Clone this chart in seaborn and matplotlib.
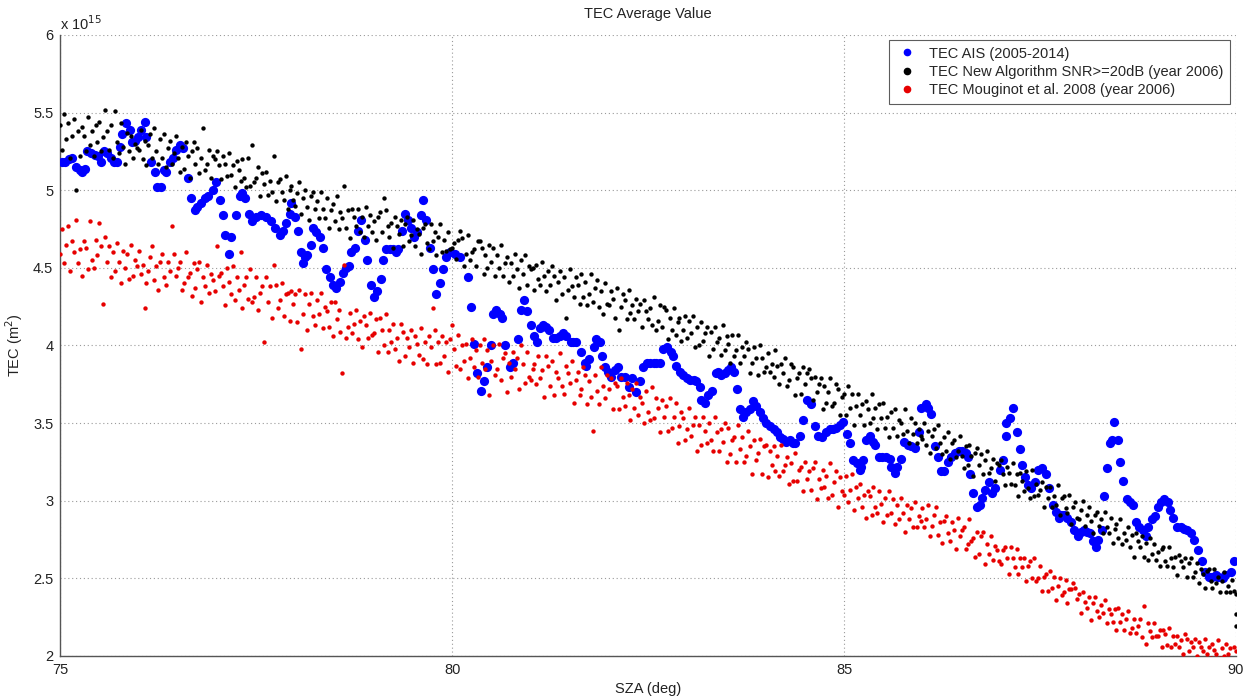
import numpy as np
import pandas as pd
import matplotlib
matplotlib.use("Agg")
import matplotlib.pyplot as plt
from matplotlib.lines import Line2D
import seaborn as sns

# ---------------- data (TEC in units of 1e15 m^-2, SZA in deg) ----------------
# TEC AIS (2005-2014): (SZA, TEC) pairs
blue_seg1 = [(75.02,5.18),(75.06,5.18),(75.11,5.20),(75.15,5.21),(75.20,5.15),(75.25,5.13),(75.28,5.12),(75.32,5.14),(75.34,5.25),(75.39,5.24),
             (75.44,5.23),(75.48,5.22),(75.52,5.18),(75.56,5.25),(75.60,5.24),(75.65,5.21),(75.69,5.18),(75.72,5.18),(75.76,5.28),(75.79,5.36),
             (75.84,5.43),(75.89,5.39),(75.92,5.31),(75.95,5.32),(75.99,5.34),(76.03,5.39),(76.08,5.44),(76.09,5.34),(76.16,5.18),(76.21,5.12),
             (76.23,5.02),(76.29,5.02),(76.32,5.13),(76.35,5.12),(76.40,5.18),(76.44,5.21),(76.48,5.26),(76.53,5.29),(76.57,5.27),(76.63,5.08),
             (76.67,4.95),(76.72,4.87),(76.74,4.89),(76.80,4.92),(76.85,4.95),(76.89,4.96),(76.95,5.00),(76.99,5.05),(77.04,4.94),(77.08,4.84),
             (77.10,4.71),(77.15,4.59),(77.18,4.70),(77.24,4.84),(77.29,4.96),(77.32,4.98),(77.36,4.95),(77.41,4.85),(77.45,4.80),(77.50,4.83)]
blue_seg2 = [(77.56,4.84),(77.63,4.83),(77.69,4.80),(77.74,4.76),(77.80,4.71),(77.84,4.74),(77.88,4.79),(77.93,4.85),(77.94,4.92),(77.99,4.83),
             (78.03,4.74),(78.07,4.60),(78.10,4.53),(78.12,4.57),(78.15,4.58),(78.20,4.65),(78.23,4.76),(78.26,4.73),(78.31,4.70),(78.35,4.63),
             (78.39,4.49),(78.44,4.44),(78.48,4.39),(78.52,4.37),(78.57,4.41),(78.61,4.47),(78.65,4.50),(78.69,4.51),(78.71,4.60),(78.76,4.63),
             (78.80,4.74),(78.84,4.81),(78.89,4.68),(78.91,4.55),(78.97,4.39),(79.00,4.31),(79.04,4.35),(79.09,4.43),(79.12,4.55),(79.16,4.62),
             (79.21,4.62),(79.25,4.62),(79.28,4.60),(79.31,4.62),(79.36,4.74),(79.40,4.85),(79.44,4.81),(79.48,4.76),(79.51,4.70),(79.55,4.73),
             (79.60,4.84),(79.63,4.94),(79.67,4.81),(79.72,4.63),(79.76,4.49),(79.80,4.33),(79.85,4.40),(79.88,4.49),(79.92,4.57),(79.97,4.60),
             (80.04,4.59),(80.10,4.57)]
blue_seg3 = [(80.20,4.44),(80.24,4.25),(80.28,4.01),(80.32,3.82),(80.37,3.71),(80.41,3.77),(80.45,3.86),(80.49,4.00),(80.52,4.20),
             (80.56,4.23),(80.61,4.20),(80.64,4.18),(80.68,4.00),(80.74,3.86),(80.78,3.89),(80.84,4.04),(80.88,4.23),(80.92,4.29),(80.96,4.22),
             (81.01,4.13),(81.05,4.06),(81.08,4.02),(81.12,4.11),(81.16,4.13),(81.20,4.12),(81.24,4.10),(81.29,4.05),(81.33,4.05),(81.38,4.06),
             (81.42,4.08),(81.45,4.06),(81.51,4.02),(81.54,4.02),(81.58,4.02),(81.65,3.96),(81.70,3.89),(81.71,3.87),(81.75,3.91),(81.81,3.99),
             (81.84,4.04),(81.89,4.02),(81.91,3.93),(81.95,3.86),(81.99,3.83),(82.03,3.80),(82.08,3.84),(82.12,3.86),(82.16,3.80),(82.21,3.80),
             (82.25,3.73),(82.30,3.79),(82.35,3.70),(82.40,3.77),(82.44,3.86),(82.48,3.89),(82.53,3.89),(82.57,3.89),(82.60,3.89),(82.65,3.89)]
blue_seg4 = [(82.69,3.98),(82.74,3.99),(82.79,3.96),(82.82,3.93),(82.86,3.87),(82.91,3.83),(82.95,3.81),(82.99,3.79),(83.04,3.78),(83.08,3.78),
             (83.11,3.77),(83.16,3.73),(83.18,3.65),(83.23,3.63),(83.27,3.68),(83.31,3.71),(83.36,3.82),(83.39,3.83),(83.43,3.81),(83.48,3.82),
             (83.52,3.84),(83.56,3.86),(83.59,3.83),(83.64,3.72),(83.67,3.59),(83.71,3.54),(83.75,3.57),(83.80,3.59),(83.84,3.64),(83.88,3.61),
             (83.93,3.57),(83.97,3.53),(84.01,3.50),(84.06,3.48),(84.10,3.46),(84.14,3.44),(84.18,3.41),(84.22,3.40),(84.26,3.38),(84.31,3.39),
             (84.35,3.37),(84.38,3.37),(84.44,3.42),(84.48,3.52),(84.53,3.65),(84.58,3.62),(84.63,3.48),(84.67,3.42),(84.72,3.41),(84.77,3.44),
             (84.82,3.46),(84.86,3.46),(84.90,3.47),(84.95,3.49),(84.99,3.51),(85.04,3.43),(85.08,3.37),(85.12,3.26),(85.17,3.24),(85.20,3.20),
             (85.22,3.22),(85.24,3.26)]
blue_seg5 = [(85.28,3.39),(85.33,3.42),(85.37,3.38),(85.40,3.36),(85.44,3.28),(85.48,3.28),(85.53,3.28),(85.58,3.27),(85.60,3.22),(85.65,3.18),
             (85.68,3.22),(85.73,3.27),(85.77,3.38),(85.81,3.36),(85.86,3.35),(85.90,3.34),(85.96,3.44),(85.98,3.60),(86.04,3.62),(86.07,3.60),
             (86.11,3.56),(86.16,3.35),(86.20,3.28),(86.24,3.19),(86.28,3.19),(86.32,3.25),(86.37,3.28),(86.42,3.31),(86.46,3.32),(86.50,3.32),
             (86.55,3.31),(86.58,3.28),(86.61,3.17),(86.65,3.05),(86.69,2.96),(86.73,2.97),(86.76,3.02),(86.80,3.07),(86.85,3.12),(86.89,3.05),
             (86.93,3.08),(86.99,3.20),(87.03,3.26),(87.06,3.42),(87.07,3.50),(87.12,3.53),(87.15,3.60),(87.20,3.44),(87.25,3.33),(87.27,3.23),
             (87.31,3.15),(87.35,3.10),(87.39,3.08),(87.44,3.12),(87.48,3.20),(87.52,3.21),(87.57,3.17),(87.61,3.08),(87.66,2.97),(87.70,2.93),
             (87.74,2.89),(87.77,2.91),(87.80,2.91),(87.85,2.89)]
blue_seg6 = [(87.89,2.86),(87.93,2.81),(87.98,2.77),(88.02,2.80),(88.06,2.81),(88.10,2.80),(88.14,2.79),(88.17,2.74),(88.21,2.70),(88.24,2.75),
             (88.29,2.81),(88.32,3.03),(88.36,3.21),(88.39,3.37),(88.42,3.39),(88.44,3.51),(88.49,3.39),(88.52,3.25),(88.56,3.13),(88.61,3.01),
             (88.65,2.99),(88.69,2.97),(88.73,2.86),(88.76,2.83),(88.81,2.81),(88.85,2.77),(88.88,2.83),(88.93,2.88),(88.97,2.90),(89.00,2.96),
             (89.04,2.99),(89.08,3.01),(89.13,2.99),(89.16,2.94),(89.20,2.89),(89.25,2.83),(89.30,2.83),(89.34,2.82),(89.38,2.81),(89.43,2.79),
             (89.46,2.75),(89.52,2.68),(89.57,2.61),(89.61,2.54),(89.65,2.51),(89.70,2.51),(89.74,2.52),(89.77,2.51),(89.83,2.50),(89.86,2.52),
             (89.93,2.54),(89.97,2.61)]

# SZA bins shared by the two 2006 series (0.025 deg from 75 to 90)
sza_start, sza_step, sza_count = 75.0, 0.025, 601

# TEC New Algorithm SNR>=20dB (year 2006): one row per degree of SZA
black_75 = [5.42,5.26,5.49,5.33,5.43,5.21,5.35,5.46,5.00,5.38,5.22,5.41,5.35,5.25,5.47,5.29,5.38,5.22,5.42,5.31,
            5.44,5.25,5.34,5.52,5.38,5.26,5.42,5.21,5.51,5.31,5.24,5.43,5.28,5.17,5.37,5.25,5.35,5.21,5.30,5.27]
black_76 = [5.26,5.39,5.20,5.32,5.16,5.29,5.36,5.21,5.40,5.25,5.17,5.33,5.21,5.36,5.15,5.27,5.32,5.17,5.24,5.35,
            5.21,5.12,5.28,5.14,5.31,5.22,5.08,5.25,5.31,5.17,5.27,5.11,5.21,5.40,5.13,5.17,5.26,5.08,5.22,5.20]
black_77 = [5.25,5.16,5.07,5.22,5.17,5.09,5.24,5.10,5.16,5.02,5.19,5.13,5.06,5.20,5.08,5.02,5.21,5.03,5.29,5.05,
            5.08,5.15,4.96,5.11,5.04,5.12,4.97,5.06,4.99,5.22,4.93,5.05,5.07,4.99,4.94,5.09,4.88,5.00,5.03,4.94]
black_78 = [4.90,4.98,5.05,4.85,4.95,5.00,4.89,4.81,4.96,4.99,4.88,4.93,4.82,4.99,4.88,4.82,4.95,4.76,4.87,4.91,
            4.80,4.96,4.75,4.86,4.82,5.03,4.76,4.87,4.69,4.88,4.83,4.77,4.88,4.73,4.83,4.70,4.89,4.77,4.84,4.73]
black_79 = [4.80,4.68,4.83,4.86,4.73,4.95,4.87,4.77,4.70,4.79,4.63,4.83,4.77,4.72,4.81,4.64,4.78,4.83,4.67,4.71,
            4.81,4.64,4.75,4.72,4.59,4.76,4.78,4.66,4.62,4.78,4.67,4.73,4.58,4.70,4.78,4.60,4.68,4.61,4.73,4.62]
black_80 = [4.63,4.66,4.56,4.68,4.74,4.69,4.51,4.59,4.71,4.55,4.60,4.62,4.51,4.67,4.67,4.63,4.46,4.58,4.50,4.65,
            4.54,4.63,4.45,4.58,4.50,4.65,4.45,4.53,4.57,4.41,4.53,4.45,4.59,4.49,4.37,4.55,4.46,4.58,4.39,4.51]
black_81 = [4.49,4.50,4.36,4.52,4.43,4.39,4.54,4.45,4.35,4.48,4.39,4.51,4.45,4.29,4.41,4.48,4.33,4.44,4.18,4.36,
            4.49,4.38,4.31,4.44,4.39,4.27,4.46,4.31,4.41,4.26,4.33,4.46,4.28,4.37,4.42,4.25,4.35,4.20,4.40,4.27]
black_82 = [4.26,4.35,4.30,4.18,4.37,4.10,4.25,4.33,4.29,4.17,4.36,4.21,4.26,4.17,4.30,4.22,4.27,4.12,4.29,4.22,
            4.17,4.24,4.13,4.31,4.10,4.16,4.26,4.12,4.25,4.23,4.04,4.18,4.10,4.24,4.07,4.15,4.18,4.03,4.10,4.19]
black_83 = [4.05,4.16,4.08,4.19,3.99,4.12,4.00,4.15,4.03,4.08,4.12,3.93,4.09,3.98,4.12,4.02,4.05,3.94,4.13,3.97,
            4.06,4.01,3.89,4.07,3.93,3.97,4.07,3.89,3.99,3.93,4.02,3.98,3.82,3.89,3.99,3.92,3.81,4.00,3.92,3.83]
black_84 = [3.86,3.95,3.83,3.88,3.80,3.97,3.87,3.75,3.88,3.82,3.92,3.74,3.78,3.88,3.86,3.68,3.79,3.82,3.69,3.86,
            3.75,3.82,3.85,3.79,3.65,3.80,3.70,3.75,3.79,3.59,3.74,3.63,3.70,3.79,3.61,3.63,3.75,3.72,3.55,3.67]
black_85 = [3.69,3.55,3.74,3.60,3.69,3.49,3.61,3.69,3.55,3.62,3.49,3.64,3.59,3.50,3.69,3.53,3.60,3.46,3.62,3.53,
            3.63,3.47,3.54,3.41,3.57,3.47,3.59,3.42,3.52,3.50,3.43,3.59,3.45,3.37,3.53,3.43,3.50,3.37,3.46,3.42]
black_86 = [3.40,3.50,3.36,3.45,3.31,3.42,3.46,3.34,3.49,3.37,3.30,3.41,3.32,3.44,3.27,3.37,3.39,3.28,3.32,3.42,
            3.29,3.21,3.35,3.23,3.36,3.29,3.16,3.31,3.34,3.23,3.30,3.17,3.26,3.32,3.18,3.21,3.27,3.13,3.24,3.23]
black_87 = [3.26,3.17,3.10,3.22,3.18,3.11,3.24,3.10,3.17,3.03,3.18,3.13,3.06,3.19,3.08,3.02,3.20,3.03,3.11,3.04,
            3.07,3.12,2.96,3.09,3.02,3.09,2.96,3.03,2.97,3.10,2.91,3.02,3.03,2.95,2.92,3.04,2.85,2.96,2.99,2.89]
black_88 = [2.88,2.94,3.00,2.84,2.91,2.96,2.87,2.79,2.91,2.93,2.84,2.88,2.79,2.93,2.83,2.79,2.89,2.73,2.82,2.85,
            2.76,2.88,2.72,2.79,2.75,2.83,2.70,2.78,2.64,2.79,2.74,2.70,2.77,2.64,2.73,2.62,2.76,2.66,2.72,2.62]
black_89 = [2.67,2.58,2.69,2.70,2.61,2.58,2.70,2.63,2.57,2.64,2.52,2.65,2.61,2.57,2.63,2.51,2.60,2.63,2.51,2.54,
            2.60,2.47,2.56,2.53,2.44,2.55,2.56,2.48,2.44,2.56,2.47,2.51,2.41,2.48,2.54,2.41,2.45,2.41,2.49,2.42]
black_90 = [2.40]
black_edge_sza = [90.0, 90.0]
black_edge_tec = [2.27, 2.19]

# TEC Mouginot et al. 2008 (year 2006): one row per degree of SZA
red_75 = [4.59,4.75,4.53,4.65,4.77,4.48,4.67,4.60,4.81,4.53,4.62,4.45,4.67,4.63,4.49,4.80,4.55,4.50,4.68,4.58,
          4.79,4.64,4.27,4.70,4.54,4.64,4.44,4.60,4.48,4.66,4.54,4.40,4.61,4.50,4.59,4.43,4.65,4.45,4.55,4.51]
red_76 = [4.61,4.46,4.52,4.24,4.40,4.48,4.57,4.64,4.42,4.51,4.36,4.54,4.59,4.44,4.39,4.54,4.48,4.77,4.59,4.45,
          4.50,4.54,4.36,4.40,4.60,4.44,4.47,4.32,4.53,4.37,4.49,4.54,4.28,4.44,4.38,4.52,4.34,4.46,4.42,4.35]
red_77 = [4.64,4.45,4.47,4.38,4.26,4.50,4.41,4.33,4.51,4.29,4.44,4.36,4.60,4.24,4.39,4.44,4.30,4.49,4.28,4.31,
          4.44,4.23,4.34,4.38,4.02,4.44,4.28,4.38,4.18,4.52,4.39,4.24,4.29,4.40,4.19,4.33,4.34,4.16,4.35,4.27]
red_78 = [4.33,4.15,4.36,3.98,4.20,4.33,4.10,4.27,4.34,4.19,4.13,4.29,4.20,4.34,4.11,4.25,4.22,4.12,4.28,4.06,
          4.28,4.17,4.23,4.09,3.82,4.52,4.05,4.12,4.21,4.08,4.14,4.23,4.04,4.16,3.99,4.19,4.13,4.05,4.21,4.07]
red_79 = [4.08,4.17,3.96,4.18,4.10,4.00,4.20,3.96,4.10,4.02,4.14,3.98,4.05,3.90,4.14,4.09,3.93,4.05,3.99,4.10,
          3.89,4.06,4.01,3.94,4.11,3.91,4.02,3.88,4.06,3.99,4.24,4.10,3.88,4.02,3.89,4.06,3.93,4.02,3.83,4.04]
red_80 = [4.13,3.98,3.87,4.07,3.85,4.00,3.90,4.01,3.79,3.92,4.04,3.86,3.97,3.80,4.00,3.89,4.04,3.85,3.97,3.68,
          3.90,4.00,3.81,3.85,4.01,3.78,3.92,3.95,3.70,3.89,3.80,3.96,3.85,3.92,3.72,4.00,3.88,3.76,3.96,3.80]
red_81 = [3.78,3.85,3.88,3.75,3.93,3.79,3.84,3.67,3.93,3.87,3.74,3.90,3.68,3.83,3.79,3.95,3.74,3.69,3.87,3.82,
          3.76,3.90,3.63,3.78,3.83,3.68,3.72,3.86,3.81,3.62,3.77,3.67,3.45,3.81,3.71,3.62,3.86,3.74,3.66,3.81]
red_82 = [3.72,3.79,3.59,3.76,3.74,3.59,3.79,3.67,3.61,3.76,3.68,3.52,3.72,3.60,3.76,3.55,3.67,3.63,3.50,3.71,
          3.57,3.52,3.73,3.53,3.66,3.60,3.44,3.65,3.54,3.61,3.45,3.66,3.47,3.54,3.63,3.37,3.48,3.57,3.53,3.39]
red_83 = [3.46,3.60,3.42,3.49,3.54,3.32,3.49,3.36,3.54,3.45,3.37,3.50,3.39,3.32,3.54,3.44,3.32,3.46,3.38,3.50,
          3.25,3.47,3.30,3.39,3.41,3.25,3.49,3.33,3.41,3.25,3.29,3.45,3.35,3.17,3.39,3.26,3.31,3.40,3.17,3.35]
red_84 = [3.36,3.15,3.32,3.23,3.35,3.19,3.29,3.16,3.36,3.19,3.23,3.28,3.11,3.24,3.13,3.31,3.13,3.20,3.22,3.06,
          3.25,3.14,3.19,3.07,3.21,3.25,3.01,3.14,3.08,3.20,3.09,3.16,3.02,3.24,3.04,3.12,3.19,2.96,3.15,3.06]
red_85 = [3.04,3.16,2.99,3.07,3.17,2.94,3.09,3.02,3.11,2.96,3.04,2.89,3.06,3.03,2.91,3.09,2.96,2.92,3.06,2.98,
          2.86,3.02,2.91,3.06,2.92,3.01,2.85,2.97,2.88,3.02,2.92,2.80,2.97,2.88,2.95,2.83,2.99,2.83,2.90,2.87]
red_86 = [2.95,2.83,2.88,2.97,2.77,2.84,2.91,2.96,2.78,2.86,2.73,2.87,2.90,2.79,2.74,2.86,2.81,2.69,2.89,2.77,
          2.81,2.83,2.69,2.72,2.88,2.74,2.76,2.64,2.80,2.66,2.77,2.80,2.59,2.72,2.66,2.77,2.62,2.71,2.68,2.61]
red_87 = [2.59,2.68,2.70,2.63,2.53,2.70,2.63,2.57,2.69,2.53,2.63,2.57,2.63,2.48,2.58,2.61,2.50,2.63,2.48,2.50,
          2.58,2.42,2.51,2.53,2.42,2.55,2.44,2.51,2.36,2.45,2.50,2.39,2.41,2.49,2.34,2.43,2.43,2.47,2.44,2.37]
red_88 = [2.40,2.28,2.41,2.35,2.31,2.38,2.23,2.34,2.38,2.29,2.25,2.33,2.28,2.36,2.21,2.30,2.27,2.22,2.30,2.17,
          2.31,2.22,2.27,2.17,2.24,2.29,2.15,2.18,2.24,2.15,2.19,2.24,2.12,2.32,2.08,2.21,2.16,2.12,2.21,2.13]
red_89 = [2.13,2.17,2.06,2.17,2.14,2.07,2.18,2.06,2.13,2.08,2.13,2.06,2.10,2.01,2.14,2.11,2.03,2.09,2.06,2.11,
          2.00,2.09,2.06,2.03,2.11,2.01,2.06,1.99,2.08,2.04,2.01,2.10,1.99,2.05,2.00,2.08,2.01,2.05,1.96,2.06]
red_90 = [2.03]

series_labels = ["TEC AIS (2005-2014)",
                 "TEC New Algorithm SNR>=20dB (year 2006)",
                 "TEC Mouginot et al. 2008 (year 2006)"]
x_ticks = [75, 80, 85, 90]
y_ticks = [2, 2.5, 3, 3.5, 4, 4.5, 5, 5.5, 6]
y_tick_labels = ["2", "2.5", "3", "3.5", "4", "4.5", "5", "5.5", "6"]

# ---------------- assemble ----------------
blue_df = pd.DataFrame(blue_seg1 + blue_seg2 + blue_seg3 + blue_seg4 + blue_seg5 + blue_seg6,
                       columns=["sza", "tec"])
grid_sza = np.round(sza_start + sza_step * np.arange(sza_count), 3)
black_tec = np.concatenate([black_75, black_76, black_77, black_78, black_79, black_80, black_81,
                            black_82, black_83, black_84, black_85, black_86, black_87, black_88,
                            black_89, black_90])
red_tec = np.concatenate([red_75, red_76, red_77, red_78, red_79, red_80, red_81, red_82, red_83,
                          red_84, red_85, red_86, red_87, red_88, red_89, red_90])
black_df = pd.DataFrame({"sza": np.concatenate([grid_sza, black_edge_sza]),
                         "tec": np.concatenate([black_tec, black_edge_tec])})
red_df = pd.DataFrame({"sza": grid_sza, "tec": red_tec})

# ---------------- plot ----------------
sns.set_style("white")
plt.rcParams["font.family"] = ["Liberation Sans", "DejaVu Sans"]

fig = plt.figure(figsize=(12.5, 7), dpi=100)
ax = fig.add_axes([0.0482, 0.0629, 0.9406, 0.8871])

blue_c, black_c, red_c = "#0000ff", "#000000", "#e60000"
sns.scatterplot(data=blue_df, x="sza", y="tec", color=blue_c, s=44, linewidth=0,
                ax=ax, zorder=3, legend=False)
sns.scatterplot(data=black_df, x="sza", y="tec", color=black_c, s=10, linewidth=0,
                ax=ax, zorder=4, legend=False)
sns.scatterplot(data=red_df, x="sza", y="tec", color=red_c, s=10, linewidth=0,
                ax=ax, zorder=5, legend=False)

ax.set_xlim(75, 90)
ax.set_ylim(2, 6)
ax.set_xticks(x_ticks)
ax.set_xticklabels([str(t) for t in x_ticks])
ax.set_yticks(y_ticks)
ax.set_yticklabels(y_tick_labels)

ax.grid(True, linestyle=(0, (1, 2.5)), color="#9a9a9a", linewidth=0.8)
ax.set_axisbelow(True)
for side in ["top", "right"]:
    ax.spines[side].set_visible(False)
for side in ["left", "bottom"]:
    ax.spines[side].set_color("#555555")
    ax.spines[side].set_linewidth(1.0)
ax.tick_params(direction="in", length=5, width=1, color="#555555",
               labelsize=10.5, labelcolor="#222222", pad=5)

ax.set_title("TEC Average Value", fontsize=10.5, pad=12, color="#222222")
ax.set_xlabel("SZA (deg)", fontsize=10.5, color="#222222", labelpad=4)
ax.set_ylabel("TEC (m$^2$)", fontsize=10.5, color="#222222", labelpad=6)
ax.text(0.0, 1.004, "x 10$^{15}$", transform=ax.transAxes, ha="left", va="bottom",
        fontsize=10.5, color="#222222")

handles = [Line2D([], [], marker="o", linestyle="", color=c, markersize=4.5)
           for c in (blue_c, black_c, red_c)]
leg = ax.legend(handles, series_labels, loc="upper right", bbox_to_anchor=(0.995, 0.992),
                frameon=True, fancybox=False, fontsize=10.5, handlelength=1.6,
                handletextpad=0.7, borderpad=0.45, labelspacing=0.3, borderaxespad=0.0)
leg.get_frame().set_edgecolor("#333333")
leg.get_frame().set_linewidth(0.8)
leg.set_zorder(10)

fig.savefig("out.png", dpi=100)
